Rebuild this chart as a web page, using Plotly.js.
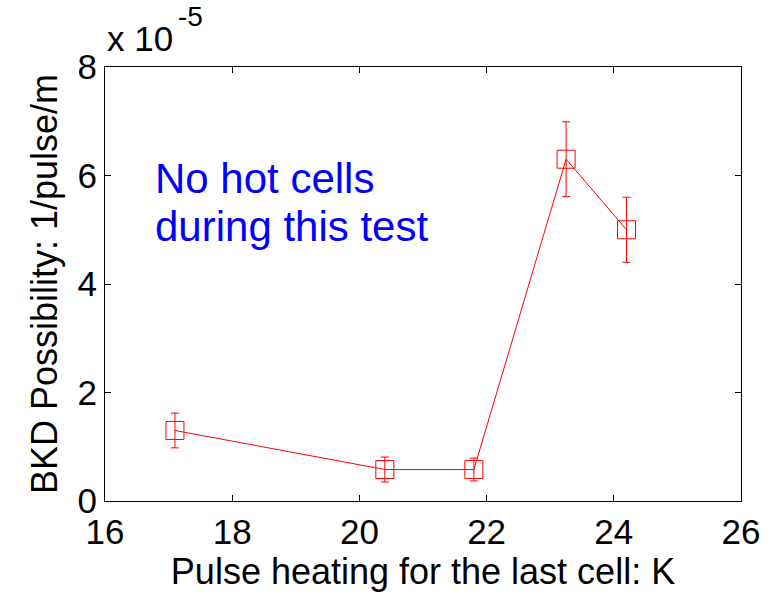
<!DOCTYPE html>
<html>
<head>
<meta charset="utf-8">
<script src="https://cdn.plot.ly/plotly-3.0.1.min.js"></script>
<style>
  html, body { margin: 0; padding: 0; background: #fff; }
  #chart { width: 780px; height: 599px; }
</style>
</head>
<body>
<div id="chart"></div>
<script>
// Pulse heating of the last cell (K)
const heating = [17.1, 20.4, 21.8, 23.25, 24.2];
// Breakdown possibility, in units of 1e-5 per pulse per metre
const bkdRate = [1.3, 0.58, 0.58, 6.3, 5.0];
// Symmetric error on each rate, same units
const bkdErr = [0.32, 0.23, 0.21, 0.69, 0.6];

const xTicks = [16, 18, 20, 22, 24, 26];
const yTicks = [0, 2, 4, 6, 8];

const FONT = 'Arial, "Liberation Sans", Helvetica, sans-serif';

const trace = {
  x: heating,
  y: bkdRate,
  type: 'scatter',
  mode: 'lines+markers',
  line: { color: '#ff0000', width: 1 },
  marker: {
    symbol: 'square-open',
    size: 18,
    color: '#ff0000',
    line: { color: '#ff0000', width: 1 }
  },
  error_y: {
    type: 'data',
    array: bkdErr,
    visible: true,
    color: '#ff0000',
    thickness: 1,
    width: 4
  },
  hoverinfo: 'skip'
};

const axisCommon = {
  showgrid: false,
  zeroline: false,
  showline: true,
  linecolor: '#000',
  linewidth: 1,
  mirror: 'allticks',
  ticks: 'inside',
  ticklen: 6,
  tickwidth: 1,
  tickcolor: '#000',
  tickfont: { family: FONT, size: 35, color: '#000' }
};

const layout = {
  width: 780,
  height: 599,
  margin: { l: 105, r: 39, t: 67, b: 98 },
  paper_bgcolor: '#fff',
  plot_bgcolor: '#fff',
  showlegend: false,
  xaxis: Object.assign({}, axisCommon, {
    range: [16, 26],
    tickvals: xTicks,
    ticktext: xTicks.map(String),
    title: { text: 'Pulse heating for the last cell: K', font: { family: FONT, size: 36, color: '#000' }, standoff: 8 }
  }),
  yaxis: Object.assign({}, axisCommon, {
    range: [0, 8],
    tickvals: yTicks,
    ticktext: yTicks.map(String),
    title: { text: 'BKD Possibility: 1/pulse/m', font: { family: FONT, size: 36, color: '#000' }, standoff: 8 }
  }),
  annotations: [
    {
      text: 'No hot cells', xref: 'x', yref: 'y', x: 16.76, y: 5.95,
      xanchor: 'left', yanchor: 'middle', showarrow: false,
      font: { family: FONT, size: 42, color: '#0000ff' }
    },
    {
      text: 'during this test', xref: 'x', yref: 'y', x: 16.76, y: 5.06,
      xanchor: 'left', yanchor: 'middle', showarrow: false,
      font: { family: FONT, size: 42, color: '#0000ff' }
    },
    {
      text: 'x 10', xref: 'paper', yref: 'paper', x: 0, y: 1.015,
      xanchor: 'left', yanchor: 'bottom', showarrow: false,
      font: { family: FONT, size: 35, color: '#000' }
    },
    {
      text: '-5', xref: 'paper', yref: 'paper', x: 0.112, y: 1.075,
      xanchor: 'left', yanchor: 'bottom', showarrow: false,
      font: { family: FONT, size: 28, color: '#000' }
    }
  ]
};

Plotly.newPlot('chart', [trace], layout, { staticPlot: true, displayModeBar: false });
</script>
</body>
</html>
